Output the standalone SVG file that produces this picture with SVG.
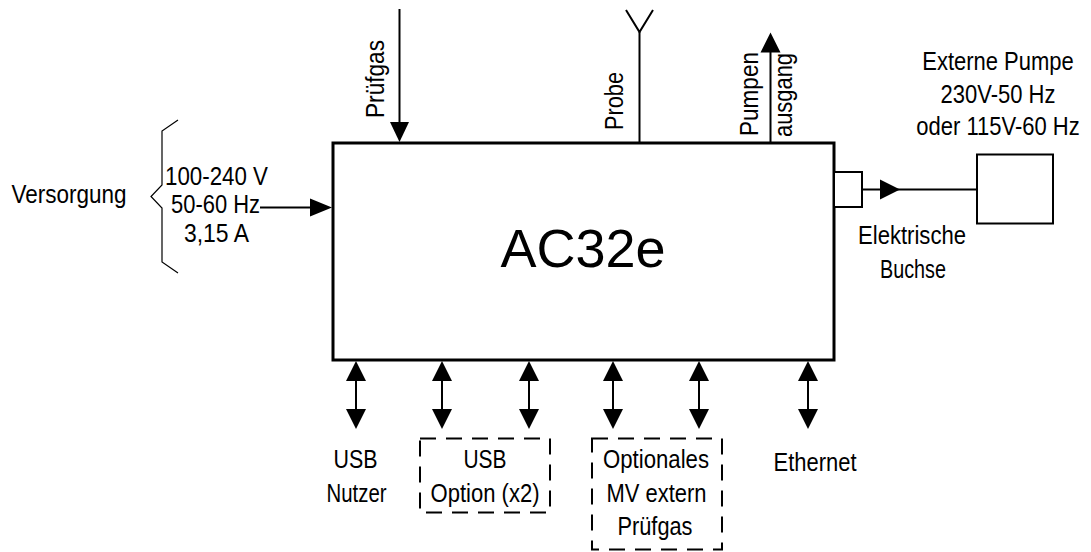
<svg xmlns="http://www.w3.org/2000/svg" width="1091" height="552" viewBox="0 0 1091 552">
<style>
.t{font-family:"Liberation Sans",Arial,sans-serif;font-size:25px;fill:#000;text-anchor:middle}
.big{font-family:"Liberation Sans",Arial,sans-serif;font-size:54px;fill:#000;text-anchor:middle}
.ln{stroke:#000;stroke-width:2;fill:none}
.thin{stroke:#000;stroke-width:1.2;fill:none}
.box{stroke:#000;stroke-width:2;fill:#fff}
.dash{stroke:#000;stroke-width:2;fill:none;stroke-dasharray:16 10}
.head{fill:#000;stroke:none}
</style>
<defs>
<marker id="ah" viewBox="0 0 20 20" refX="0" refY="10" markerWidth="20" markerHeight="20" markerUnits="userSpaceOnUse" orient="auto-start-reverse">
<path d="M0,0 L20,10 L0,20 z" fill="#000"/>
</marker>
</defs>
<rect width="1091" height="552" fill="#fff"/>

<g id="connectors">
<line class="ln" x1="260" y1="207.5" x2="310" y2="207.5"/>
<polygon class="head" points="310,198.5 332,207.5 310,216.5"/>
<line class="ln" x1="399.5" y1="9" x2="399.5" y2="123"/>
<polygon class="head" points="390,122 409,122 399.5,142"/>
<polyline class="ln" points="639.5,143 639.5,32"/>
<polyline class="ln" points="626,10 639.5,32 653,10"/>
<line class="ln" x1="770.5" y1="143" x2="770.5" y2="52"/>
<polygon class="head" points="760.5,52.5 780.5,52.5 770.5,32.5"/>
<line class="ln" x1="862" y1="189.5" x2="977" y2="189.5"/>
<polygon class="head" points="880,179.5 900,189.5 880,199.5"/>
<line class="ln" x1="356" y1="381" x2="356" y2="409" marker-start="url(#ah)" marker-end="url(#ah)"/>
<line class="ln" x1="442" y1="381" x2="442" y2="409" marker-start="url(#ah)" marker-end="url(#ah)"/>
<line class="ln" x1="529" y1="381" x2="529" y2="409" marker-start="url(#ah)" marker-end="url(#ah)"/>
<line class="ln" x1="613" y1="381" x2="613" y2="409" marker-start="url(#ah)" marker-end="url(#ah)"/>
<line class="ln" x1="699" y1="381" x2="699" y2="409" marker-start="url(#ah)" marker-end="url(#ah)"/>
<line class="ln" x1="808" y1="381" x2="808" y2="409" marker-start="url(#ah)" marker-end="url(#ah)"/>
</g>

<g id="ac32e">
<rect x="333" y="143" width="501" height="217" fill="#fff" stroke="#000" stroke-width="3"/>
<text class="big" x="583" y="267">AC32e</text>
</g>

<g id="versorgung">
<text class="t" x="69" y="203" textLength="115" lengthAdjust="spacingAndGlyphs">Versorgung</text>
<path class="thin" d="M178,120 L162,131 L162,185 L151,196.5 L162,208 L162,262 L178,273"/>
<text class="t" x="216.5" y="185" textLength="103" lengthAdjust="spacingAndGlyphs">100-240 V</text>
<text class="t" x="215.5" y="213" textLength="89" lengthAdjust="spacingAndGlyphs">50-60 Hz</text>
<text class="t" x="216.5" y="241.5" textLength="65" lengthAdjust="spacingAndGlyphs">3,15 A</text>
</g>

<g id="pruefgas-in">
<text class="t" transform="translate(384,79) rotate(-90)" textLength="78" lengthAdjust="spacingAndGlyphs">Prüfgas</text>
</g>

<g id="probe">
<text class="t" transform="translate(623,101) rotate(-90)" textLength="58" lengthAdjust="spacingAndGlyphs">Probe</text>
</g>

<g id="pumpenausgang">
<text class="t" transform="translate(758,94) rotate(-90)" textLength="84" lengthAdjust="spacingAndGlyphs">Pumpen</text>
<text class="t" transform="translate(792,95) rotate(-90)" textLength="84" lengthAdjust="spacingAndGlyphs">ausgang</text>
</g>

<g id="buchse">
<rect class="box" x="834" y="172" width="28" height="35"/>
<text class="t" x="912" y="244" textLength="108" lengthAdjust="spacingAndGlyphs">Elektrische</text>
<text class="t" x="913" y="277.5" textLength="66" lengthAdjust="spacingAndGlyphs">Buchse</text>
</g>

<g id="externe-pumpe">
<rect class="box" x="977" y="154.5" width="76" height="69"/>
<g transform="translate(998,0) scale(0.88,1)">
<text class="t" x="0" y="70.5">Externe Pumpe</text>
<text class="t" x="0" y="103">230V-50 Hz</text>
<text class="t" x="0" y="135">oder 115V-60 Hz</text>
</g>
</g>

<g id="usb-nutzer">
<text class="t" x="355.5" y="468" textLength="44" lengthAdjust="spacingAndGlyphs">USB</text>
<text class="t" x="356.5" y="501.5" textLength="60" lengthAdjust="spacingAndGlyphs">Nutzer</text>
</g>

<g id="usb-option">
<rect class="dash" x="420" y="438.5" width="130" height="74"/>
<text class="t" x="485" y="468" textLength="43" lengthAdjust="spacingAndGlyphs">USB</text>
<text class="t" x="485" y="501.5" textLength="109" lengthAdjust="spacingAndGlyphs">Option (x2)</text>
</g>

<g id="mv-extern">
<rect class="dash" x="592" y="438.5" width="130" height="111"/>
<text class="t" x="656" y="468" textLength="106" lengthAdjust="spacingAndGlyphs">Optionales</text>
<text class="t" x="656.5" y="501.5" textLength="100" lengthAdjust="spacingAndGlyphs">MV extern</text>
<text class="t" x="655" y="535" textLength="75" lengthAdjust="spacingAndGlyphs">Prüfgas</text>
</g>

<g id="ethernet">
<text class="t" x="815" y="470.5" textLength="83" lengthAdjust="spacingAndGlyphs">Ethernet</text>
</g>
</svg>
